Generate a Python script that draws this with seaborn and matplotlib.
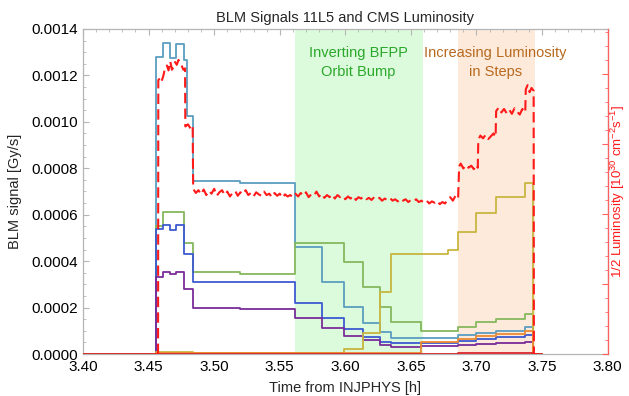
import numpy as np
import pandas as pd
import matplotlib
matplotlib.use("Agg")
import matplotlib.pyplot as plt
import seaborn as sns
from matplotlib.ticker import MultipleLocator, FormatStrFormatter

# ---------------- data ----------------
teal_t = [3.40, 3.4558, 3.4608, 3.466, 3.4707, 3.477, 3.4796, 3.4839, 3.52, 3.562,
          3.5825, 3.5992, 3.6132, 3.6264, 3.635, 3.6862, 3.6999, 3.7146, 3.737, 3.7428, 3.75]
teal_v = [0.000002, 0.001281, 0.001339, 0.001275, 0.001334, 0.001267, 0.001026, 0.000743,
          0.000737, 0.000462, 0.000309, 0.000201, 0.000135, 0.0000961, 0.0000690,
          0.0000800, 0.0000920, 0.0001005, 0.000115, 0.0, 0.0]

green_t = [3.40, 3.4558, 3.4608, 3.477, 3.4839, 3.52, 3.562, 3.5992, 3.6132, 3.6264,
           3.635, 3.6578, 3.6862, 3.6999, 3.7146, 3.737, 3.7428, 3.75]
green_v = [0.000001, 0.000553, 0.000611, 0.000479, 0.000352, 0.000344, 0.000476, 0.000398,
           0.000290, 0.000201, 0.000137, 0.0000991, 0.000118, 0.000137, 0.000152,
           0.000171, 0.0, 0.0]

blue_t = [3.40, 3.4558, 3.4608, 3.466, 3.4707, 3.477, 3.4839, 3.52, 3.562, 3.5825,
          3.5992, 3.6132, 3.6264, 3.635, 3.6862, 3.6999, 3.7146, 3.737, 3.7428, 3.75]
blue_v = [0.0, 0.000537, 0.000556, 0.000534, 0.000556, 0.000430, 0.000312, 0.000308,
          0.000221, 0.000154, 0.000106, 0.0000746, 0.000053, 0.0000461, 0.000055,
          0.0000632, 0.000072, 0.0000833, 0.0, 0.0]

purple_t = [3.40, 3.4558, 3.4608, 3.466, 3.4707, 3.477, 3.4839, 3.52, 3.562, 3.5825,
            3.5992, 3.6132, 3.6264, 3.635, 3.6578, 3.6862, 3.6999, 3.7146, 3.737,
            3.7428, 3.75]
purple_v = [0.0, 0.000333, 0.000355, 0.000345, 0.000355, 0.000279, 0.000200, 0.000196,
            0.000157, 0.000113, 0.0000776, 0.0000603, 0.0000388, 0.0000289, 0.000033,
            0.000038, 0.000043, 0.0000474, 0.000052, 0.0, 0.0]

yellow_t = [3.40, 3.4558, 3.4839, 3.5992, 3.6132, 3.6264, 3.635, 3.6786, 3.6862,
            3.6999, 3.7146, 3.737, 3.7428, 3.75]
yellow_v = [0.0, 0.000008, 0.000003, 0.0000215, 0.0000905, 0.000269, 0.000432,
            0.000448, 0.000527, 0.000606, 0.000678, 0.000738, 0.0, 0.0]

orange_t = [3.40, 3.4558, 3.6578, 3.6862, 3.6999, 3.7146, 3.737, 3.7428, 3.75]
orange_v = [0.0, 0.000006, 0.0000504, 0.0000632, 0.0000776, 0.0000862, 0.0000991, 0.0, 0.0]

red_t = [3.40, 3.4558, 3.6862, 3.7146, 3.737, 3.7428, 3.75]
red_v = [0.000001, 0.000002, 0.000004, 0.000005, 0.000006, 0.0, 0.0]

lum_t = [3.4572, 3.4574, 3.4590, 3.4600, 3.4612, 3.4625, 3.4640, 3.4652, 3.4665,
         3.4678, 3.4690, 3.4702, 3.4715, 3.4728, 3.4740, 3.4752, 3.4765, 3.4778, 3.4780,
         3.4800, 3.4820, 3.4836, 3.4840, 3.4860, 3.4880, 3.4900, 3.4920, 3.4940, 3.4960,
         3.4980, 3.5000, 3.5020, 3.5040, 3.5060, 3.5080, 3.5100, 3.5120, 3.5140, 3.5160,
         3.5180, 3.5200, 3.5220, 3.5240, 3.5260, 3.5280, 3.5300, 3.5320, 3.5340, 3.5360,
         3.5380, 3.5400, 3.5420, 3.5440, 3.5460, 3.5480, 3.5500, 3.5520, 3.5540, 3.5560,
         3.5580, 3.5600, 3.5620, 3.5640, 3.5660, 3.5680, 3.5700, 3.5720, 3.5740, 3.5760,
         3.5780, 3.5800, 3.5820, 3.5840, 3.5860, 3.5880, 3.5900, 3.5920, 3.5940, 3.5960,
         3.5980, 3.6000, 3.6020, 3.6040, 3.6060, 3.6080, 3.6100, 3.6120, 3.6140, 3.6160,
         3.6180, 3.6200, 3.6220, 3.6240, 3.6260, 3.6280, 3.6300, 3.6320, 3.6340, 3.6360,
         3.6380, 3.6400, 3.6420, 3.6440, 3.6460, 3.6480, 3.6500, 3.6520, 3.6540, 3.6560,
         3.6580, 3.6600, 3.6620, 3.6640, 3.6660, 3.6680, 3.6700, 3.6720, 3.6740, 3.6760,
         3.6780, 3.6800, 3.6820, 3.6840, 3.6860, 3.6868, 3.6880, 3.6900, 3.6920, 3.6940,
         3.6960, 3.6980, 3.7000, 3.7010, 3.7014, 3.7030, 3.7050, 3.7070, 3.7090, 3.7110,
         3.7130, 3.7146, 3.7150, 3.7170, 3.7190, 3.7210, 3.7230, 3.7250, 3.7270, 3.7290,
         3.7310, 3.7330, 3.7350, 3.7372, 3.7376, 3.7390, 3.7405, 3.7420, 3.7436, 3.7438,
         3.7500]
lum_v = [0.0, 3.91, 3.95, 3.90, 3.97, 4.08, 4.12, 4.05, 4.18,
         4.06, 4.10, 4.17, 4.13, 4.20, 4.16, 4.12, 4.06, 4.08, 3.25,
         3.28, 3.22, 3.26, 2.36, 2.30, 2.34, 2.28, 2.35, 2.27, 2.33,
         2.29, 2.36, 2.26, 2.31, 2.34, 2.27, 2.32, 2.25, 2.30, 2.33,
         2.26, 2.31, 2.28, 2.34, 2.27, 2.30, 2.25, 2.31, 2.28, 2.26,
         2.32, 2.27, 2.29, 2.24, 2.30, 2.26, 2.29, 2.23, 2.28, 2.25,
         2.27, 2.24, 2.29, 2.25, 2.30, 2.26, 2.31, 2.24, 2.28, 2.26,
         2.32, 2.25, 2.29, 2.23, 2.27, 2.24, 2.28, 2.22, 2.27, 2.24,
         2.26, 2.21, 2.25, 2.22, 2.26, 2.20, 2.24, 2.22, 2.25, 2.21,
         2.23, 2.20, 2.24, 2.21, 2.23, 2.19, 2.22, 2.20, 2.23, 2.19,
         2.21, 2.18, 2.22, 2.19, 2.21, 2.17, 2.20, 2.18, 2.21, 2.17,
         2.19, 2.16, 2.19, 2.15, 2.18, 2.16, 2.19, 2.14, 2.17, 2.15,
         2.20, 2.24, 2.19, 2.26, 2.22, 2.68, 2.72, 2.65, 2.70, 2.66,
         2.69, 2.64, 2.70, 2.66, 3.06, 3.12, 3.08, 3.13, 3.07, 3.11,
         3.15, 3.10, 3.47, 3.52, 3.45, 3.50, 3.44, 3.49, 3.43, 3.51,
         3.46, 3.42, 3.50, 3.45, 3.78, 3.84, 3.74, 3.80, 3.76, 0.0,
         0.0]

green_band = (3.5615, 3.6590)
orange_band = (3.6860, 3.7450)

x_ticks = [3.40, 3.45, 3.50, 3.55, 3.60, 3.65, 3.70, 3.75, 3.80]

# ---------------- style ----------------
sns.set_theme(style="white")
plt.rcParams['font.family'] = ['Liberation Sans', 'DejaVu Sans']
plt.rcParams['mathtext.fontset'] = 'custom'
plt.rcParams['mathtext.rm'] = 'Liberation Sans'
plt.rcParams['mathtext.it'] = 'Liberation Sans'

FRAME = '#b5b5b5'
C_TEAL = '#5b9dc0'
C_GREEN = '#86b85e'
C_BLUE = '#3d5ad0'
C_PURPLE = '#7a2c98'
C_YELLOW = '#c8b640'
C_ORANGE = '#ea8a32'
C_RED = '#d8262a'
C_LUM = '#ff1a1a'

fig = plt.figure(figsize=(6.29, 3.96), dpi=100)
ax = fig.add_axes([0.132, 0.106, 0.834, 0.821])

ax.axvspan(*green_band, color='#dcfadc', lw=0, zorder=0)
ax.axvspan(*orange_band, color='#fdeadb', lw=0, zorder=0)

series = [(teal_t, teal_v, C_TEAL), (green_t, green_v, C_GREEN),
          (blue_t, blue_v, C_BLUE), (purple_t, purple_v, C_PURPLE),
          (yellow_t, yellow_v, C_YELLOW), (orange_t, orange_v, C_ORANGE),
          (red_t, red_v, C_RED)]
for t, v, c in series:
    sns.lineplot(x=t, y=v, ax=ax, color=c, lw=1.3, drawstyle='steps-post',
                 estimator=None, sort=False, zorder=3)

ax.set_xlim(3.40, 3.80)
ax.set_ylim(0, 0.0014)
ax.set_xticks(x_ticks)
ax.xaxis.set_major_formatter(FormatStrFormatter('%.2f'))
ax.xaxis.set_minor_locator(MultipleLocator(0.01))
ax.yaxis.set_major_locator(MultipleLocator(0.0002))
ax.yaxis.set_minor_locator(MultipleLocator(0.00005))
ax.yaxis.set_major_formatter(FormatStrFormatter('%.4f'))
ax.tick_params(axis='both', which='both', direction='in', colors=FRAME,
               labelcolor='black', labelsize=11, top=True, right=False)
ax.tick_params(which='major', length=4, width=0.8)
ax.tick_params(which='minor', length=2, width=0.6)
ax.tick_params(axis='x', pad=4)
for s in ax.spines.values():
    s.set_color(FRAME)
    s.set_linewidth(0.9)

ax.set_xlabel('Time from INJPHYS [h]', fontsize=10.5, labelpad=5)
ax.set_ylabel('BLM signal [Gy/s]', fontsize=10.5, labelpad=7)
ax.set_title('BLM Signals 11L5 and CMS Luminosity', fontsize=10.5, pad=5)

ax.text(3.610, 0.001256, 'Inverting BFPP\nOrbit Bump', ha='center', va='center',
        fontsize=10.5, color='#2aa82a', linespacing=1.5, zorder=4)
ax.text(3.7147, 0.001256, 'Increasing Luminosity\nin Steps', ha='center', va='center',
        fontsize=10.5, color='#b8691e', linespacing=1.5, zorder=4)

# right axis: luminosity
ax2 = ax.twinx()
sns.lineplot(x=lum_t, y=lum_v, ax=ax2, color=C_LUM, lw=1.5,
             estimator=None, sort=False, zorder=5)
ax2.lines[-1].set_linestyle((0, (5, 2.5)))
ax2.set_ylim(0, 4.643)
ax2.yaxis.set_major_locator(MultipleLocator(1.0))
ax2.yaxis.set_minor_locator(MultipleLocator(0.2))
ax2.tick_params(axis='y', which='both', direction='in', colors='#ff6060',
                labelright=False)
ax2.tick_params(which='major', length=4, width=0.8)
ax2.tick_params(which='minor', length=2, width=0.6)
for name, s in ax2.spines.items():
    s.set_visible(name == 'right')
ax2.spines['right'].set_color('#ff6060')
ax2.spines['right'].set_linewidth(0.9)
ax2.set_ylabel('1/2 Luminosity [10$^{30}$ cm$^{-2}$s$^{-1}$]', color='#ff1a1a',
               fontsize=9.5, labelpad=1)
ax2.grid(False)
ax.grid(False)

fig.savefig('out.png', dpi=100)
